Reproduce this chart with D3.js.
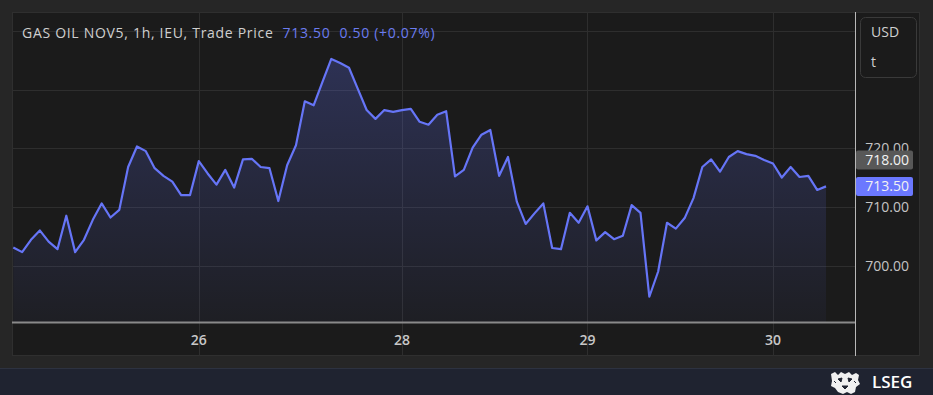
<!DOCTYPE html>
<html lang="en">
<head>
<meta charset="utf-8">
<title>GAS OIL NOV5 1h</title>
<script src="https://cdn.jsdelivr.net/npm/d3@7"></script>
<style>
  body { margin: 0; background: #262626; }
  svg { display: block; }
</style>
</head>
<body>
<script>
// hourly trade prices, one value per bar
var prices = [
  703.1, 702.3, 704.4, 706.0, 704.1, 702.8, 708.5, 702.3, 704.4, 707.8,
  710.6, 708.2, 709.5, 716.8, 720.3, 719.5, 716.6, 715.3, 714.3, 712.0,
  712.0, 717.8, 715.7, 713.8, 716.3, 713.3, 718.1, 718.2, 716.8, 716.6,
  711.0, 717.1, 720.5, 728.0, 727.3, 731.3, 735.2, 734.5, 733.7, 730.1,
  726.5, 725.0, 726.5, 726.2, 726.5, 726.7, 724.5, 724.0, 725.7, 726.3,
  715.2, 716.3, 720.1, 722.3, 723.1, 715.3, 718.5, 710.9, 707.1, 708.9,
  710.6, 703.0, 702.8, 709.0, 707.3, 710.1, 704.3, 705.7, 704.5, 705.1,
  710.3, 709.0, 694.7, 699.0, 707.3, 706.3, 708.1, 711.5, 716.8, 718.1,
  716.0, 718.5, 719.5, 719.0, 718.7, 718.0, 717.4, 715.0, 716.8, 715.1,
  715.3, 712.9, 713.5
];
// day labels sit on these bar indices
var dayTicks = [21, 44, 65, 86];
var dayLabels = ["26", "28", "29", "30"];
var priceTicks = [700, 710, 720];
var gridPrices = [700, 710, 720, 730, 740];
var lastPrice = 713.50;
var markPrice = 718.00;

var w = 933, h = 395;
var plotL = 12, plotR = 855, plotT = 12, plotB = 322;
var font = "Open Sans, sans-serif";

var svg = d3.select("body").append("svg").attr("width", w).attr("height", h);

// page + panel
svg.append("rect").attr("width", w).attr("height", h).attr("fill", "#262626");
svg.append("rect").attr("x", 12.5).attr("y", 12.5).attr("width", 907).attr("height", 343)
  .attr("fill", "#1b1b1b").attr("stroke", "#2f2f2f").attr("stroke-width", 1);
svg.append("rect").attr("x", 0).attr("y", 369).attr("width", w).attr("height", 26).attr("fill", "#1f2330");
svg.append("line").attr("x1", 0).attr("x2", w).attr("y1", 368.5).attr("y2", 368.5).attr("stroke", "#2d3240");

var xScale = d3.scaleLinear().domain([0, prices.length - 1]).range([13.3, 826]);
var yScale = d3.scaleLinear().domain([690.4, 743.2]).range([plotB, plotT]);

// grid
svg.selectAll("line.hgrid").data(gridPrices).enter().append("line")
  .attr("class", "hgrid")
  .attr("x1", plotL).attr("x2", plotR)
  .attr("y1", function(d){ return Math.round(yScale(d)) + 0.5; })
  .attr("y2", function(d){ return Math.round(yScale(d)) + 0.5; })
  .attr("stroke", "#2e2e2e");
svg.selectAll("line.vgrid").data(dayTicks).enter().append("line")
  .attr("class", "vgrid")
  .attr("x1", function(d){ return Math.round(xScale(d)) + 0.5; })
  .attr("x2", function(d){ return Math.round(xScale(d)) + 0.5; })
  .attr("y1", plotT).attr("y2", 356)
  .attr("stroke", "#2e2e2e");

// area + line
var grad = svg.append("defs").append("linearGradient").attr("id", "fillGrad")
  .attr("x1", 0).attr("y1", 0).attr("x2", 0).attr("y2", 1);
grad.append("stop").attr("offset", "0%").attr("stop-color", "#6474ff").attr("stop-opacity", 0.25);
grad.append("stop").attr("offset", "100%").attr("stop-color", "#6474ff").attr("stop-opacity", 0.04);

var area = d3.area()
  .x(function(d, i){ return xScale(i); })
  .y0(plotB)
  .y1(function(d){ return yScale(d); });
svg.append("path").datum(prices).attr("d", area).attr("fill", "url(#fillGrad)");

var line = d3.line()
  .x(function(d, i){ return xScale(i); })
  .y(function(d){ return yScale(d); });
svg.append("path").datum(prices).attr("d", line)
  .attr("fill", "none").attr("stroke", "#6675f7").attr("stroke-width", 2.2)
  .attr("stroke-linejoin", "round");

// x axis
svg.append("line").attr("x1", plotL).attr("x2", plotR).attr("y1", 322.5).attr("y2", 322.5)
  .attr("stroke", "#8a8a8a").attr("stroke-width", 2);
svg.selectAll("text.xlab").data(dayTicks).enter().append("text")
  .attr("class", "xlab")
  .attr("x", function(d){ return xScale(d); })
  .attr("y", 345)
  .attr("text-anchor", "middle")
  .attr("font-family", font).attr("font-size", 14).attr("font-weight", 600)
  .attr("fill", "#c8c8c8")
  .text(function(d, i){ return dayLabels[i]; });

// y axis separator
svg.append("line").attr("x1", 855.5).attr("x2", 855.5).attr("y1", 12).attr("y2", 356)
  .attr("stroke", "#b8b8b8").attr("stroke-width", 1);

svg.selectAll("text.ylab").data(priceTicks).enter().append("text")
  .attr("class", "ylab")
  .attr("x", 909)
  .attr("y", function(d){ return yScale(d) + 5; })
  .attr("text-anchor", "end")
  .attr("font-family", font).attr("font-size", 14)
  .attr("fill", "#c4c4c4")
  .text(function(d){ return d.toFixed(2); });

// price tags
function tag(v, bg) {
  var y = yScale(v);
  svg.append("rect").attr("x", 856).attr("y", y - 9.5).attr("width", 57).attr("height", 19)
    .attr("rx", 2).attr("fill", bg);
  svg.append("text").attr("x", 909).attr("y", y + 5).attr("text-anchor", "end")
    .attr("font-family", font).attr("font-size", 14)
    .attr("fill", "#f2f2f2").text(v.toFixed(2));
}
tag(markPrice, "#585858");
tag(lastPrice, "#6b78ff");

// unit box
svg.append("rect").attr("x", 860.5).attr("y", 17.5).attr("width", 56).attr("height", 60)
  .attr("rx", 5).attr("fill", "#1b1b1b").attr("stroke", "#3a3a3a");
svg.append("text").attr("x", 871).attr("y", 37).attr("font-family", font)
  .attr("font-size", 14).attr("fill", "#d0d0d0").text("USD");
svg.append("text").attr("x", 871).attr("y", 67).attr("font-family", font)
  .attr("font-size", 14).attr("fill", "#d0d0d0").text("t");

// legend
var legend = svg.append("text").attr("x", 22).attr("y", 38)
  .attr("font-family", font).attr("font-size", 14).attr("letter-spacing", 0.7);
legend.append("tspan").attr("fill", "#cfcfcf").text("GAS OIL NOV5, 1h, IEU, Trade Price");
legend.append("tspan").attr("fill", "#6b7cf0").attr("dx", 9).text(lastPrice.toFixed(2));
legend.append("tspan").attr("fill", "#6b7cf0").attr("dx", 9).text("0.50 (+0.07%)");

// LSEG mark
var logo = svg.append("g").attr("transform", "translate(829,371)");
logo.append("path")
  .attr("d", "M2,3 L6,1 L9,4 L12,1 L16,3 L20,1 L23,4 L27,2 L30,4 L29,9 L31,13 L27,16 L26,21 L22,23 L18,21 L14,23 L9,21 L6,17 L2,15 L3,10 Z")
  .attr("fill", "#f0f0f0");
logo.append("path")
  .attr("d", "M9,8 L13,7 L12,11 Z M19,7 L23,8 L20,11 Z M13,15 L19,15 L16,18 Z M5,10 L7,12 M25,10 L27,12")
  .attr("fill", "#1f2330").attr("stroke", "#1f2330").attr("stroke-width", 1);
svg.append("text").attr("x", 872).attr("y", 388)
  .attr("font-family", font).attr("font-size", 17).attr("font-weight", 600)
  .attr("fill", "#ffffff").text("LSEG");
</script>
</body>
</html>
